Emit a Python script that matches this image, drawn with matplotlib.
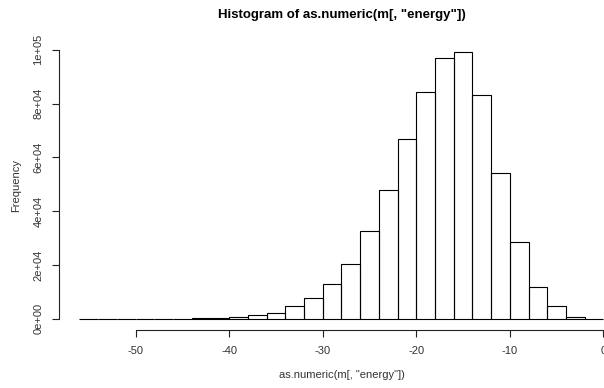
import numpy as np
import matplotlib
matplotlib.use("Agg")
import matplotlib.pyplot as plt

# Histogram bins (width 2) and counts
bin_edges = np.arange(-56, 1, 2)
counts = [5, 10, 15, 20, 40, 70, 150, 250, 500, 1300, 2200, 4600, 7700, 13000,
          20300, 32600, 47800, 66900, 84200, 96900, 99200, 83300, 54300, 28500,
          11900, 4700, 800, 30]
x_ticks = [-50, -40, -30, -20, -10, 0]
y_ticks = [0, 20000, 40000, 60000, 80000, 100000]
y_tick_labels = ["0e+00", "2e+04", "4e+04", "6e+04", "8e+04", "1e+05"]

plt.rcParams['font.family'] = ['Liberation Sans', 'DejaVu Sans']

W, H = 604, 388
fig = plt.figure(figsize=(W / 100, H / 100), dpi=100)

# plot region in pixels (R-style, right side cropped by the image)
left_px, right_px, top_px, bottom_px = 58.5, 624.4, 41.3, 329.5
ax = fig.add_axes([left_px / W, (H - bottom_px) / H,
                   (right_px - left_px) / W, (bottom_px - top_px) / H])

ax.bar(bin_edges[:-1], counts, width=2, align='edge', fill=False,
       edgecolor='black', linewidth=0.8)

# R extends the range by 4% on each side
xr = bin_edges[-1] - bin_edges[0]
ax.set_xlim(bin_edges[0] - 0.04 * xr, bin_edges[-1] + 0.04 * xr)
ymax = max(counts)
ax.set_ylim(-0.04 * ymax, 1.04 * ymax)

for s in ['top', 'right']:
    ax.spines[s].set_visible(False)
ax.spines['bottom'].set_bounds(x_ticks[0], x_ticks[-1])
ax.spines['left'].set_bounds(y_ticks[0], y_ticks[-1])
for s in ['bottom', 'left']:
    ax.spines[s].set_linewidth(0.8)
    ax.spines[s].set_color('#222222')

ax.set_xticks(x_ticks)
ax.set_xticklabels([str(v) for v in x_ticks])
ax.set_yticks(y_ticks)
ax.set_yticklabels(y_tick_labels, rotation=90, va='center')
ax.tick_params(axis='both', length=4.8, width=0.8, color='#222222',
               labelsize=8, labelcolor='#333333')
ax.tick_params(axis='x', pad=7)
ax.tick_params(axis='y', pad=6)

ax.set_xlabel('as.numeric(m[, "energy"])', fontsize=8, color='#333333', labelpad=10)
ax.set_ylabel('Frequency', fontsize=8, color='#333333', labelpad=9)
fig.text((left_px + right_px) / 2 / W, 1 - 15 / H,
         'Histogram of as.numeric(m[, "energy"])', ha='center', va='center',
         fontsize=9.5, fontweight='bold')

fig.savefig("out.png", dpi=100)
